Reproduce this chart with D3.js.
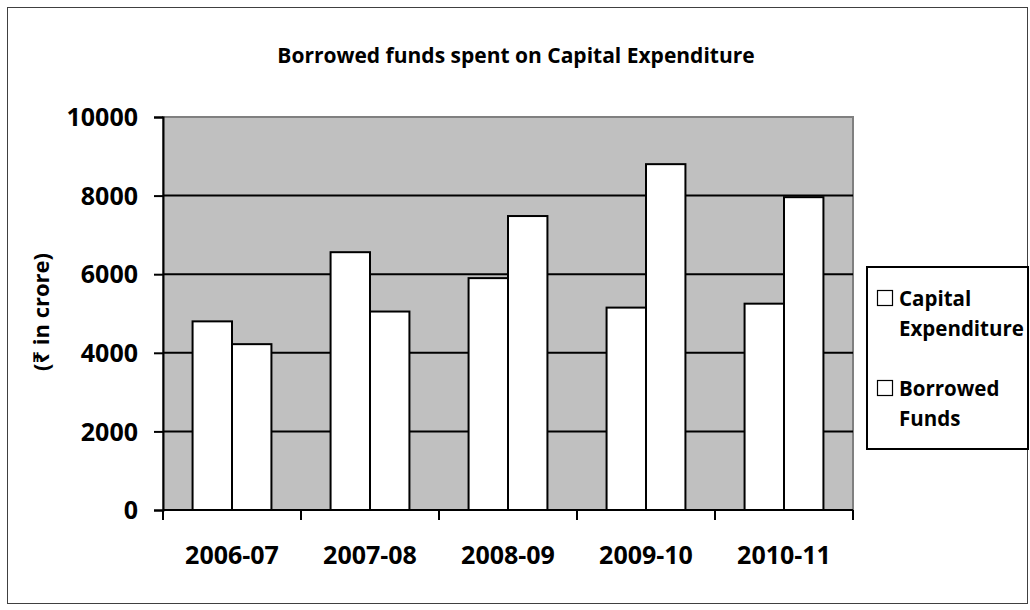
<!DOCTYPE html>
<html>
<head>
<meta charset="utf-8">
<script src="https://cdn.jsdelivr.net/npm/d3@7"></script>
<style>
  html, body { margin: 0; padding: 0; background: #fff; }
  svg { display: block; }
  text { font-family: "Open Sans", "Noto Sans", "DejaVu Sans", sans-serif; font-weight: bold; fill: #000; }
</style>
</head>
<body>
<svg id="chart" width="1030" height="610"></svg>
<script>
// Data (₹ in crore)
const years = ["2006-07", "2007-08", "2008-09", "2009-10", "2010-11"];
const seriesNames = ["Capital Expenditure", "Borrowed Funds"];
const capitalExpenditure = [4800, 6560, 5900, 5150, 5250];
const borrowedFunds = [4220, 5050, 7480, 8800, 7960];
const yTicks = [0, 2000, 4000, 6000, 8000, 10000];

const svg = d3.select("#chart");

// Outer chart frame
svg.append("rect")
  .attr("x", 7.5).attr("y", 7.5)
  .attr("width", 1020).attr("height", 596)
  .attr("fill", "none").attr("stroke", "#404040").attr("stroke-width", 1);

const plot = { left: 163, right: 853, top: 117, bottom: 510 };

const x = d3.scaleBand().domain(years).range([plot.left, plot.right]).paddingInner(0).paddingOuter(0);
const xSeries = d3.scaleBand().domain(seriesNames)
  .range([0, x.bandwidth()]).paddingInner(0).paddingOuter(0.75);
const y = d3.scaleLinear().domain([0, 10000]).range([plot.bottom, plot.top]);

// Plot background
svg.append("rect")
  .attr("x", plot.left).attr("y", plot.top)
  .attr("width", plot.right - plot.left).attr("height", plot.bottom - plot.top)
  .attr("fill", "#C0C0C0").attr("stroke", "#808080").attr("stroke-width", 2);

// Gridlines
svg.append("g").selectAll("line")
  .data(yTicks.filter(d => d > 0 && d < 10000))
  .join("line")
  .attr("x1", plot.left).attr("x2", plot.right)
  .attr("y1", d => y(d)).attr("y2", d => y(d))
  .attr("stroke", "#000").attr("stroke-width", 2);

// Bars
const rows = years.map((yr, i) => ({
  year: yr,
  values: [
    { name: seriesNames[0], value: capitalExpenditure[i] },
    { name: seriesNames[1], value: borrowedFunds[i] }
  ]
}));

svg.append("g").selectAll("g")
  .data(rows)
  .join("g")
  .attr("transform", d => `translate(${x(d.year)},0)`)
  .selectAll("rect")
  .data(d => d.values)
  .join("rect")
  .attr("x", d => xSeries(d.name))
  .attr("width", xSeries.bandwidth())
  .attr("y", d => y(d.value))
  .attr("height", d => y(0) - y(d.value))
  .attr("fill", "#fff").attr("stroke", "#000").attr("stroke-width", 2);

// Y axis
const yAxis = svg.append("g")
  .attr("transform", `translate(${plot.left},0)`)
  .call(d3.axisLeft(y).tickValues(yTicks).tickFormat(d3.format("d")).tickSize(9).tickPadding(16));
yAxis.select(".domain").attr("stroke", "#000").attr("stroke-width", 2);
yAxis.selectAll(".tick line").attr("stroke", "#000").attr("stroke-width", 2);
yAxis.selectAll(".tick text")
  .attr("font-size", 25).attr("font-family", null).attr("dy", "0.35em");

// X axis (ticks at category boundaries)
const xAxisG = svg.append("g").attr("transform", `translate(0,${plot.bottom})`);
xAxisG.append("line")
  .attr("x1", plot.left).attr("x2", plot.right)
  .attr("stroke", "#000").attr("stroke-width", 2);
const boundaries = years.map(d => x(d)).concat([plot.right]);
xAxisG.selectAll("line.tk")
  .data(boundaries)
  .join("line").attr("class", "tk")
  .attr("x1", d => d).attr("x2", d => d)
  .attr("y1", 0).attr("y2", 10)
  .attr("stroke", "#000").attr("stroke-width", 2);
xAxisG.selectAll("text")
  .data(years)
  .join("text")
  .attr("x", d => x(d) + x.bandwidth() / 2)
  .attr("y", 54)
  .attr("text-anchor", "middle")
  .attr("font-size", 25)
  .text(d => d);

// Title
svg.append("text")
  .attr("x", 516).attr("y", 63)
  .attr("text-anchor", "middle")
  .attr("font-size", 21)
  .text("Borrowed funds spent on Capital Expenditure");

// Y axis title
svg.append("text")
  .attr("transform", "translate(49,312) rotate(-90)")
  .attr("text-anchor", "middle")
  .attr("font-size", 22)
  .text("(₹ in crore)");

// Legend
const legend = svg.append("g");
legend.append("rect")
  .attr("x", 867).attr("y", 267)
  .attr("width", 161).attr("height", 182)
  .attr("fill", "#fff").attr("stroke", "#000").attr("stroke-width", 2);

const legendLines = [["Capital", "Expenditure"], ["Borrowed", "Funds"]];
const legendItems = legend.selectAll("g")
  .data(seriesNames)
  .join("g")
  .attr("transform", (d, i) => `translate(0,${i * 90})`);
legendItems.append("rect")
  .attr("x", 877.5).attr("y", 290.5)
  .attr("width", 15).attr("height", 15)
  .attr("fill", "#fff").attr("stroke", "#000").attr("stroke-width", 1.2);
legendItems.append("text")
  .attr("x", 899).attr("y", 306)
  .attr("font-size", 20.5)
  .selectAll("tspan")
  .data((d, i) => legendLines[i])
  .join("tspan")
  .attr("x", 899)
  .attr("dy", (d, j) => j === 0 ? 0 : 30)
  .text(d => d);
</script>
</body>
</html>
